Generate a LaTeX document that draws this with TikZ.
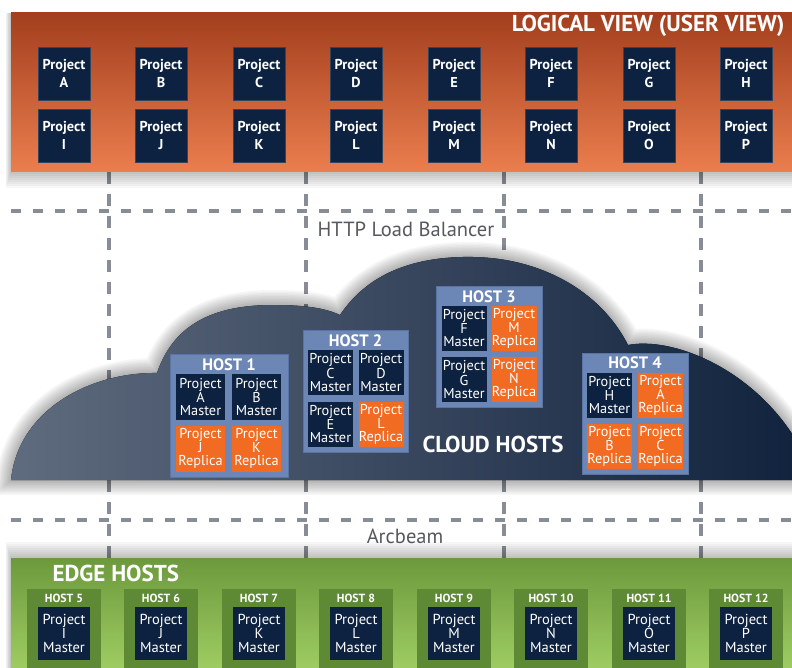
\documentclass[tikz,border=0pt]{standalone}
\usepackage{fontspec}
\setmainfont{PT Sans}
\usepackage{tikz}
\usepackage{xcolor}
\definecolor{navy}{HTML}{0D2240}
\definecolor{navyline}{HTML}{33445E}
\definecolor{orangebox}{HTML}{F26B22}
\definecolor{hostblue}{HTML}{6C86B5}
\definecolor{hostline}{HTML}{5873A4}
\definecolor{edgegreen}{HTML}{5F8A35}
\definecolor{gridgray}{HTML}{888D95}
\definecolor{labelgray}{HTML}{55595F}
\definecolor{bandtop}{HTML}{A33F1E}
\definecolor{bandmid}{HTML}{D6673A}
\definecolor{bandbot}{HTML}{EB7E4E}
\definecolor{greentop}{HTML}{6C993C}
\definecolor{greenbot}{HTML}{A4D266}
\definecolor{cloudleft}{HTML}{5F6B7E}
\definecolor{cloudright}{HTML}{0F213C}
\newcommand{\cloudoutline}{(11,480) .. controls (18,410) and (90,372) .. (157,373) .. controls (175,320) and (220,305) .. (273,305) .. controls (305,305) and (325,308) .. (340,315) .. controls (370,270) and (420,256) .. (473,257) .. controls (540,258) and (600,290) .. (628,345) .. controls (680,335) and (780,380) .. (815,480) -- cycle}

\begin{document}
\begin{tikzpicture}[x=1pt,y=-1pt]
\tikzstyle{project}=[fill=navy, draw=navyline, line width=0.6pt, text=white, font=\bfseries\fontsize{14.3}{18}\selectfont, align=center, minimum width=52pt, minimum height=53pt, inner sep=0pt]
\tikzstyle{master}=[fill=navy, text=white, font=\fontsize{14.3}{13}\selectfont, align=center, minimum width=45pt, minimum height=45pt, inner sep=0pt]
\tikzstyle{replica}=[master, fill=orangebox]
\tikzstyle{edgemaster}=[master, minimum width=52pt, minimum height=53pt, font=\fontsize{14.5}{13.8}\selectfont]
\tikzstyle{host}=[fill=hostblue, draw=hostline, line width=0.8pt, inner sep=0pt]
\tikzstyle{hosttitle}=[text=white, font=\bfseries\fontsize{16.5}{16}\selectfont]
\tikzstyle{edgetitle}=[text=white, font=\bfseries\fontsize{11.8}{12}\selectfont]
\tikzstyle{edgehost}=[fill=edgegreen, inner sep=0pt, minimum width=74pt, minimum height=90pt]
\tikzstyle{bigtitle}=[text=white, font=\bfseries\fontsize{23}{23}\selectfont]
\tikzstyle{busname}=[text=labelgray, font=\fontsize{20.5}{20}\selectfont]
\tikzstyle{gridline}=[line width=3.8pt, draw=gridgray]
\tikzstyle{haze}=[black, opacity=0.03]

\clip (0,0) rectangle (792,668);
\fill[white] (0,0) rectangle (792,668);

\coordinate (g1t) at (109,172); \coordinate (g1b) at (109,558);
\coordinate (g2t) at (306,172); \coordinate (g2b) at (306,558);
\coordinate (g3t) at (504,172); \coordinate (g3b) at (504,558);
\coordinate (g4t) at (701,172); \coordinate (g4b) at (701,558);
\coordinate (h1l) at (11,211); \coordinate (h1r) at (792,211);
\coordinate (h2l) at (11,520); \coordinate (h2r) at (792,520);

\draw[gridline, dash pattern=on 12pt off 10pt] (g1t) -- (g1b);
\draw[gridline, dash pattern=on 12pt off 10pt] (g2t) -- (g2b);
\draw[gridline, dash pattern=on 12pt off 10pt] (g3t) -- (g3b);
\draw[gridline, dash pattern=on 12pt off 10pt] (g4t) -- (g4b);
\draw[gridline, dash pattern=on 10pt off 12pt] (h1l) -- (h1r);
\draw[gridline, dash pattern=on 10pt off 12pt] (h2l) -- (h2r);

\foreach \d in {2,4,...,16} \fill[haze] (11-\d/3,13) rectangle (800,172+\d);
\foreach \d in {2,4,...,16} \fill[haze] (11-\d/3,558-\d) rectangle (800,680);
\foreach \w in {3,6,...,30} \draw[haze, line width=\w pt] \cloudoutline;

\fill[top color=bandtop, middle color=bandmid, bottom color=bandbot] (11,13) rectangle (800,172);
\fill[top color=greentop, bottom color=greenbot] (11,558) rectangle (800,680);
\fill[left color=cloudleft, right color=cloudright] \cloudoutline;

\node[bigtitle, anchor=east] (logical) at (788,26) {LOGICAL VIEW (USER VIEW)};
\node[bigtitle] (cloud) at (493,444) {CLOUD HOSTS};
\node[bigtitle, anchor=west] (edge) at (49,573) {EDGE HOSTS};
\node[busname] (http) at (406,229) {HTTP Load Balancer};
\node[busname] (arcbeam) at (405,536) {Arcbeam};

\node[project] (pa) at (64,73.5) {Project\\A};
\node[project] (pb) at (161,73.5) {Project\\B};
\node[project] (pc) at (259,73.5) {Project\\C};
\node[project] (pd) at (356,73.5) {Project\\D};
\node[project] (pe) at (454,73.5) {Project\\E};
\node[project] (pf) at (551,73.5) {Project\\F};
\node[project] (pg) at (649,73.5) {Project\\G};
\node[project] (ph) at (746,73.5) {Project\\H};
\node[project] (pi) at (64,135.5) {Project\\I};
\node[project] (pj) at (161,135.5) {Project\\J};
\node[project] (pk) at (259,135.5) {Project\\K};
\node[project] (pl) at (356,135.5) {Project\\L};
\node[project] (pm) at (454,135.5) {Project\\M};
\node[project] (pn) at (551,135.5) {Project\\N};
\node[project] (po) at (649,135.5) {Project\\O};
\node[project] (pp) at (746,135.5) {Project\\P};

\node[host, minimum width=118pt, minimum height=123pt] (host1) at (229,415.5) {};
\node[hosttitle] (host1t) at (229,365) {HOST 1};
\node[master, minimum width=49pt, minimum height=46pt] (h1a) at (200.5,397) {Project\\A\\Master};
\node[master, minimum width=49pt, minimum height=46pt] (h1b) at (256.5,397) {Project\\B\\Master};
\node[replica, minimum width=49pt, minimum height=46pt] (h1j) at (200.5,448.5) {Project\\J\\Replica};
\node[replica, minimum width=49pt, minimum height=46pt] (h1k) at (256.5,448.5) {Project\\K\\Replica};

\node[host, minimum width=105pt, minimum height=122pt] (host2) at (355.5,391) {};
\node[hosttitle] (host2t) at (355.5,341) {HOST 2};
\node[master] (h2c) at (330.5,372.5) {Project\\C\\Master};
\node[master] (h2d) at (381,372.5) {Project\\D\\Master};
\node[master] (h2e) at (330.5,424) {Project\\E\\Master};
\node[replica] (h2l) at (381,424) {Project\\L\\Replica};

\node[host, minimum width=106pt, minimum height=121pt] (host3) at (489,346.5) {};
\node[hosttitle] (host3t) at (489,297) {HOST 3};
\node[master] (h3f) at (464,328.5) {Project\\F\\Master};
\node[replica] (h3m) at (514,328.5) {Project\\M\\Replica};
\node[master] (h3g) at (464,379.5) {Project\\G\\Master};
\node[replica] (h3n) at (514,379.5) {Project\\N\\Replica};

\node[host, minimum width=106pt, minimum height=121pt] (host4) at (635,413.5) {};
\node[hosttitle] (host4t) at (635,363) {HOST 4};
\node[master] (h4h) at (609.5,395) {Project\\H\\Master};
\node[replica] (h4a) at (660.5,395) {Project\\A\\Replica};
\node[replica] (h4b) at (609.5,446) {Project\\B\\Replica};
\node[replica] (h4c) at (660.5,446) {Project\\C\\Replica};

\node[edgehost] (host5) at (64,634) {};
\node[edgehost] (host6) at (161,634) {};
\node[edgehost] (host7) at (259,634) {};
\node[edgehost] (host8) at (356,634) {};
\node[edgehost] (host9) at (454,634) {};
\node[edgehost] (host10) at (551,634) {};
\node[edgehost] (host11) at (649,634) {};
\node[edgehost] (host12) at (746,634) {};
\node[edgetitle] (host5t) at (64,598) {HOST 5};
\node[edgetitle] (host6t) at (161,598) {HOST 6};
\node[edgetitle] (host7t) at (259,598) {HOST 7};
\node[edgetitle] (host8t) at (356,598) {HOST 8};
\node[edgetitle] (host9t) at (454,598) {HOST 9};
\node[edgetitle] (host10t) at (551,598) {HOST 10};
\node[edgetitle] (host11t) at (649,598) {HOST 11};
\node[edgetitle] (host12t) at (746,598) {HOST 12};
\node[edgemaster] (h5i) at (64,633.5) {Project\\I\\Master};
\node[edgemaster] (h6j) at (161,633.5) {Project\\J\\Master};
\node[edgemaster] (h7k) at (259,633.5) {Project\\K\\Master};
\node[edgemaster] (h8l) at (356,633.5) {Project\\L\\Master};
\node[edgemaster] (h9m) at (454,633.5) {Project\\M\\Master};
\node[edgemaster] (h10n) at (551,633.5) {Project\\N\\Master};
\node[edgemaster] (h11o) at (649,633.5) {Project\\O\\Master};
\node[edgemaster] (h12p) at (746,633.5) {Project\\P\\Master};
\end{tikzpicture}
\end{document}
